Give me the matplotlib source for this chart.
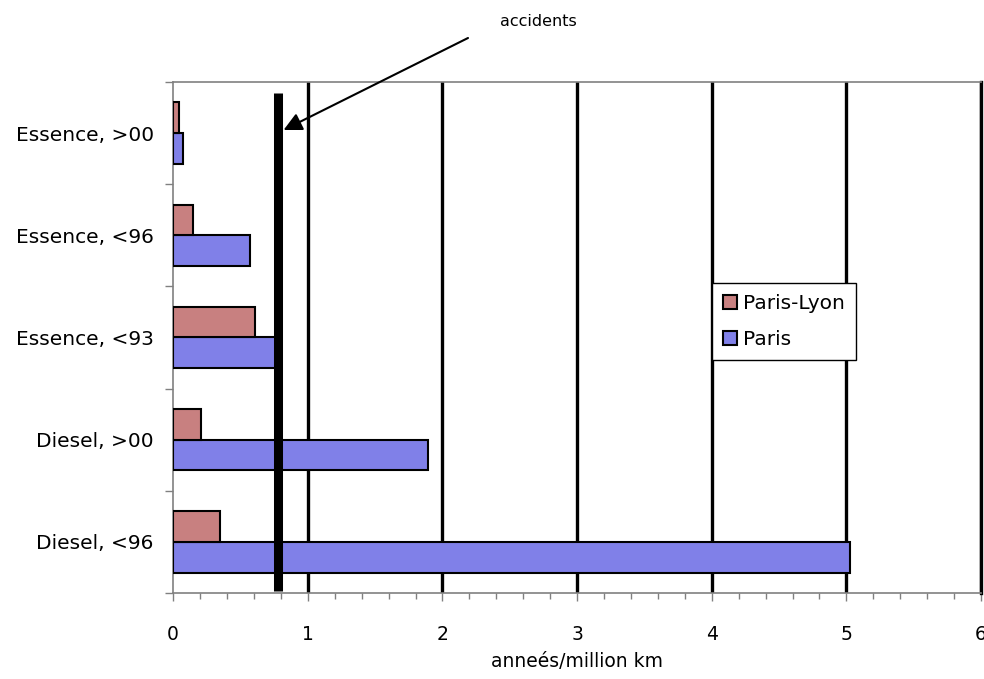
import numpy as np
import matplotlib.pyplot as plt

categories = ['Diesel, <96', 'Diesel, >00', 'Essence, <93', 'Essence, <96', 'Essence, >00']
paris = [5.03, 1.89, 0.76, 0.57, 0.07]
paris_lyon = [0.35, 0.21, 0.61, 0.15, 0.04]
accidents = 0.78

plt.rcParams['font.family'] = ['DejaVu Sans']

fig = plt.figure(figsize=(9.84, 6.79), dpi=100)
ax = fig.add_axes([0.176, 0.1267, 0.821, 0.7526])

y = np.arange(len(categories))
h = 0.3
ax.barh(y - 0.15, paris, height=h, color='#8080E8', edgecolor='black', linewidth=1.5,
        label='Paris', zorder=3)
ax.barh(y + 0.15, paris_lyon, height=h, color='#C88080', edgecolor='black', linewidth=1.5,
        label='Paris-Lyon', zorder=3)

ax.set_xlim(0, 6)
ax.set_ylim(-0.5, 4.5)

# vertical grid lines
for gx in range(1, 7):
    ax.axvline(gx, color='black', linewidth=2.4, zorder=2)

# accidents reference line
ax.plot([accidents, accidents], [-0.48, 4.39], color='black', linewidth=6.5,
        solid_capstyle='butt', zorder=4)

ax.annotate('', xy=(0.82, 4.03), xycoords='data',
            xytext=(468, 679 - 38), textcoords='figure pixels',
            arrowprops=dict(arrowstyle='-|>,head_length=1.1,head_width=0.55',
                            color='black', linewidth=1.5, shrinkA=0, shrinkB=0))
fig.text(538 / 984, 1 - 22 / 679, 'accidents', ha='center', va='center', fontsize=11.5)

ax.set_xticks(range(7))
ax.set_xticks(np.arange(0, 6.01, 0.2), minor=True)
ax.tick_params(axis='x', which='major', length=6, width=1, color='#808080',
               labelsize=13.5, pad=17)
ax.tick_params(axis='x', which='minor', length=4, width=1, color='#808080')

ax.set_yticks(np.arange(-0.5, 4.6, 1))
ax.set_yticklabels([])
ax.set_yticks(y, minor=True)
ax.set_yticklabels(categories, minor=True)
ax.tick_params(axis='y', which='major', length=6, width=1, color='#808080')
ax.tick_params(axis='y', which='minor', length=0, labelsize=14.5, pad=14)

for s in ['left', 'bottom', 'top']:
    ax.spines[s].set_color('#808080')
    ax.spines[s].set_linewidth(1.2)
ax.spines['right'].set_color('black')
ax.spines['right'].set_linewidth(2.4)

ax.set_xlabel('anneés/million km', fontsize=13.5, labelpad=6)

handles, labels = ax.get_legend_handles_labels()
leg = ax.legend(handles[::-1], labels[::-1], loc='upper left',
                bbox_to_anchor=(0.667, 0.607), borderaxespad=0, fontsize=14.5,
                fancybox=False, framealpha=1, edgecolor='black',
                handlelength=0.7, handleheight=0.7, handletextpad=0.3,
                borderpad=0.55, labelspacing=0.85)
leg.get_frame().set_linewidth(1.0)
leg.set_zorder(5)

fig.savefig('out.png', dpi=100)
